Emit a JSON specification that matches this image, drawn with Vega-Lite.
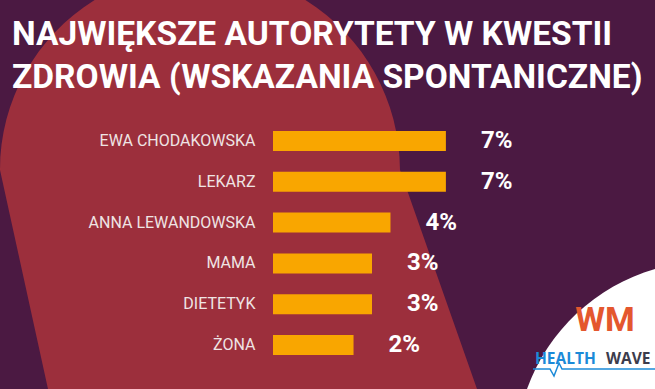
{
  "$schema": "https://vega.github.io/schema/vega-lite/v6.json",
  "width": 382,
  "height": 244.8,
  "autosize": {"type": "none"},
  "padding": {"left": 273, "top": 120.6, "right": 0, "bottom": 23.6},
  "background": "#4b1942",
  "config": {"view": {"stroke": null}},
  "title": {
    "text": ["NAJWIĘKSZE AUTORYTETY W KWESTII", "ZDROWIA (WSKAZANIA SPONTANICZNE)"],
    "anchor": "start",
    "frame": "group",
    "dx": -261,
    "dy": 96,
    "offset": 0,
    "font": "Roboto",
    "fontSize": 33.5,
    "fontWeight": "bold",
    "color": "#ffffff",
    "lineHeight": 43,
    "limit": 0,
    "zindex": 2
  },
  "layer": [
    {
      "data": {"values": [{"decor": "arch"}]},
      "mark": {"type": "point", "shape": "M -416 146 L -464 -73 A 200 200 0 0 1 -369.4 -243 L -158.6 -243 A 200 200 0 0 1 -64 -73 L 13 146 Z", "size": 4, "filled": true, "fill": "#9c2f3c", "strokeWidth": 0, "opacity": 1},
      "encoding": {}
    },
    {
      "data": {"values": [{"decor": "logo"}]},
      "mark": {"type": "point", "shape": "M 63 146 A 193 193 0 0 1 191 26 L 191 146 Z", "size": 4, "filled": true, "fill": "#ffffff", "strokeWidth": 0, "opacity": 1},
      "encoding": {}
    },
    {
      "data": {"values": [{"decor": "wave"}]},
      "mark": {"type": "point", "shape": "M 69 126 L 86 126 L 90 133 L 95 120 L 98 126 L 191 126", "size": 4, "filled": false, "stroke": "#1b8ad8", "strokeWidth": 1.5, "opacity": 1},
      "encoding": {}
    },
    {
      "data": {"values": [{"t": "WM"}]},
      "mark": {"type": "text", "dx": 141, "dy": 78, "align": "center", "baseline": "middle", "font": "Roboto", "fontWeight": "bold", "fontSize": 34, "color": "#e4572e"},
      "encoding": {"text": {"field": "t"}}
    },
    {
      "data": {"values": [{"t": "HEALTH"}]},
      "mark": {"type": "text", "dx": 71, "dy": 116, "align": "left", "baseline": "middle", "font": "Open Sans", "fontWeight": "bold", "fontSize": 15.5, "color": "#1b8ad8"},
      "encoding": {"text": {"field": "t"}}
    },
    {
      "data": {"values": [{"t": "WAVE"}]},
      "mark": {"type": "text", "dx": 142, "dy": 116, "align": "left", "baseline": "middle", "font": "Open Sans", "fontWeight": "bold", "fontSize": 15.5, "color": "#3c3c4c"},
      "encoding": {"text": {"field": "t"}}
    },
    {
      "data": {"values": [
        {"name": "Ewa Chodakowska", "share": 0.07},
        {"name": "Lekarz", "share": 0.07},
        {"name": "Anna Lewandowska", "share": 0.04},
        {"name": "Mama", "share": 0.03},
        {"name": "Dietetyk", "share": 0.03},
        {"name": "Żona", "share": 0.02}
      ]},
      "encoding": {
        "y": {
          "field": "name",
          "type": "nominal",
          "sort": null,
          "scale": {"paddingInner": 0.51, "paddingOuter": 0.255},
          "axis": {
            "title": null,
            "ticks": false,
            "domain": false,
            "grid": false,
            "zindex": 1,
            "labelPadding": 18,
            "labelLimit": 0,
            "labelFont": "Roboto",
            "labelFontSize": 16,
            "labelColor": "#efe4e4",
            "labelExpr": "upper(datum.label)"
          }
        },
        "x": {
          "field": "share",
          "type": "quantitative",
          "scale": {"domain": [-0.0236, 0.1832], "zero": false, "nice": false},
          "axis": null
        }
      },
      "layer": [
        {
          "mark": {"type": "bar", "color": "#f9a600"},
          "encoding": {"x2": {"datum": -0.0236}}
        },
        {
          "mark": {"type": "text", "align": "left", "baseline": "middle", "dx": 35, "font": "Roboto", "fontWeight": "bold", "fontSize": 24, "color": "#ffffff"},
          "encoding": {"text": {"field": "share", "format": ".0%"}}
        }
      ]
    }
  ]
}
